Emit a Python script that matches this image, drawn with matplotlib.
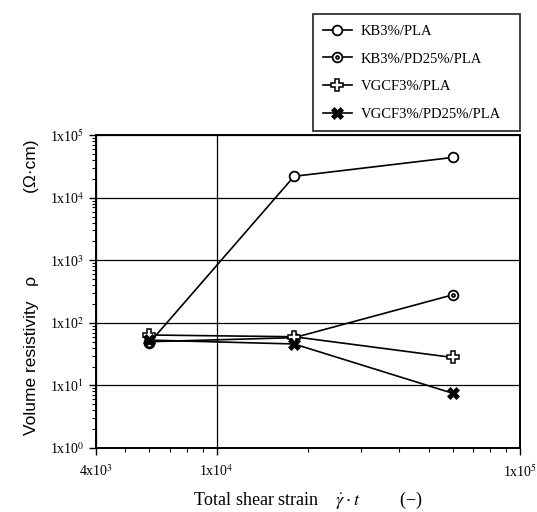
import numpy as np
import matplotlib.pyplot as plt
from matplotlib.path import Path
from matplotlib.ticker import FixedLocator, NullFormatter

plt.rcParams['mathtext.fontset'] = 'stix'

strain = [6000, 18000, 60000]
kb_pla = [48, 22000, 44000]
kb_pd_pla = [50, 58, 280]
vgcf_pla = [64, 60, 28]
vgcf_pd_pla = [53, 46, 7.5]

labels = ['KB3%/PLA', 'KB3%/PD25%/PLA', 'VGCF3%/PLA', 'VGCF3%/PD25%/PLA']

# circle with a small dot inside
circ = Path.unit_circle()
dot = Path(circ.vertices * 0.3, circ.codes)
dotted_circle = Path.make_compound_path(circ, dot)

fig = plt.figure(figsize=(5.37, 5.12), dpi=100)
ax = fig.add_axes([0.179, 0.125, 0.789, 0.611])

ax.plot(strain, kb_pla, 'k-', marker='o', mfc='white', mec='k', ms=7, mew=1.3, lw=1.2, label=labels[0])
ax.plot(strain, kb_pd_pla, 'k-', marker=dotted_circle, mfc='white', mec='k', ms=7, mew=1.3, lw=1.2, label=labels[1])
ax.plot(strain, vgcf_pla, 'k-', marker='P', mfc='white', mec='k', ms=8, mew=1.1, lw=1.2, label=labels[2])
ax.plot(strain, vgcf_pd_pla, 'k-', marker='X', mfc='k', mec='k', ms=8, mew=0.5, lw=1.2, label=labels[3])

ax.set_xscale('log')
ax.set_yscale('log')
ax.set_xlim(4e3, 1e5)
ax.set_ylim(1, 1e5)

ax.xaxis.set_major_locator(FixedLocator([4e3, 1e4, 1e5]))
ax.set_xticklabels([r'4x10$^{3}$', r'1x10$^{4}$', r'1x10$^{5}$'], family='Liberation Serif', fontsize=10)
ax.xaxis.set_minor_locator(FixedLocator([5e3, 6e3, 7e3, 8e3, 9e3] + [k * 1e4 for k in range(2, 10)]))
ax.xaxis.set_minor_formatter(NullFormatter())

yt = [1, 10, 100, 1e3, 1e4, 1e5]
ax.yaxis.set_major_locator(FixedLocator(yt))
ax.set_yticklabels([r'1x10$^{%d}$' % i for i in range(6)], family='Liberation Serif', fontsize=10)
ax.yaxis.set_minor_locator(FixedLocator([k * 10.0**e for e in range(5) for k in range(2, 10)]))
ax.yaxis.set_minor_formatter(NullFormatter())

ax.tick_params(which='major', direction='out', length=5, width=1, color='k')
ax.tick_params(which='minor', direction='out', length=3, width=0.8, color='k')
ax.tick_params(axis='x', which='major', pad=6)

ax.grid(True, which='major', color='k', lw=0.9)
for s in ax.spines.values():
    s.set_linewidth(1.4)

ax.set_xlabel(r'Total shear strain    $\dot{\gamma}\cdot t$         (−)', family='Liberation Serif', fontsize=13, labelpad=7)
ax.set_ylabel('Volume resistivity   ρ                 (Ω·cm)', family='Liberation Sans', fontsize=12.5)
ax.yaxis.set_label_coords(-0.135, 0.515)

leg = fig.legend(loc='upper left', frameon=True, fancybox=False,
                 edgecolor='k', prop={'family': 'Liberation Serif', 'size': 10.5},
                 handlelength=2.0, handletextpad=0.6, labelspacing=1.0, borderpad=0.7,
                 borderaxespad=0, mode='expand')
leg.set_bbox_to_anchor((0.582, 0.972 - 0.22, 0.386, 0.22), transform=fig.transFigure)
leg.get_frame().set_linewidth(1.3)

fig.savefig('out.png', dpi=100)
